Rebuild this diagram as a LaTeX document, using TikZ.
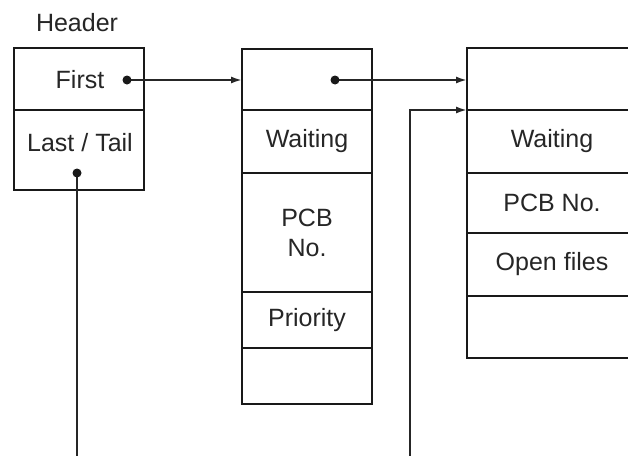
\documentclass[tikz,border=0pt]{standalone}
\usepackage{fontspec}
\setmainfont{Liberation Sans}
\usetikzlibrary{arrows.meta}
\tikzset{
  cell/.style={draw=black!90, line width=2.4pt, rectangle, inner sep=0pt, outer sep=0pt,
               anchor=north west, align=center, font=\fontsize{25}{30}\selectfont, text=black!85},
  link/.style={draw=black!85, line width=1.9pt},
  tip/.style={link, -{Latex[length=11pt,width=7pt]}},
  dot/.style={fill=black!90},
  lbl/.style={font=\fontsize{25}{30}\selectfont, text=black!85}
}
\begin{document}
\begin{tikzpicture}[x=1pt,y=-1pt]
\clip (0,0) rectangle (628,455);
\fill[white] (0,0) rectangle (628,455);
% header
\node[lbl] (hdr) at (77,23) {Header};
\node[cell, minimum width=130pt, minimum height=62pt] (h1) at (14,48) {};
\node[cell, minimum width=130pt, minimum height=80pt] (h2) at (14,110) {};
\node[lbl] (t1) at (80,80) {First};
\node[lbl] (t2) at (80,143) {Last / Tail};
% box 2
\node[cell, minimum width=130pt, minimum height=61pt] (c1) at (242,49) {};
\node[cell, minimum width=130pt, minimum height=63pt] (c2) at (242,110) {Waiting};
\node[cell, minimum width=130pt, minimum height=119pt] (c3) at (242,173) {PCB\\No.};
\node[cell, minimum width=130pt, minimum height=56pt] (c4) at (242,292) {Priority};
\node[cell, minimum width=130pt, minimum height=56pt] (c5) at (242,348) {};
% box 3
\node[cell, minimum width=170pt, minimum height=62pt] (d1) at (467,48) {};
\node[cell, minimum width=170pt, minimum height=63pt] (d2) at (467,110) {Waiting};
\node[cell, minimum width=170pt, minimum height=60pt] (d3) at (467,173) {PCB No.};
\node[cell, minimum width=170pt, minimum height=63pt] (d4) at (467,233) {Open files};
\node[cell, minimum width=170pt, minimum height=62pt] (d5) at (467,296) {};
% pointers
\coordinate (p1) at (127,80);
\coordinate (p2) at (77,173);
\coordinate (p3) at (335,80);
\coordinate (b1) at (77,456);
\coordinate (b2) at (410,456);
\draw[tip] (p1) -- (p1 -| c1.west);
\draw[tip] (p3) -- (p3 -| d1.west);
\draw[link] (p2) -- (b1);
\draw[tip] (b2) |- (d2.north west);
\fill[dot] (p1) circle[radius=4.5pt];
\fill[dot] (p2) circle[radius=4.5pt];
\fill[dot] (p3) circle[radius=4.5pt];
\end{tikzpicture}
\end{document}
